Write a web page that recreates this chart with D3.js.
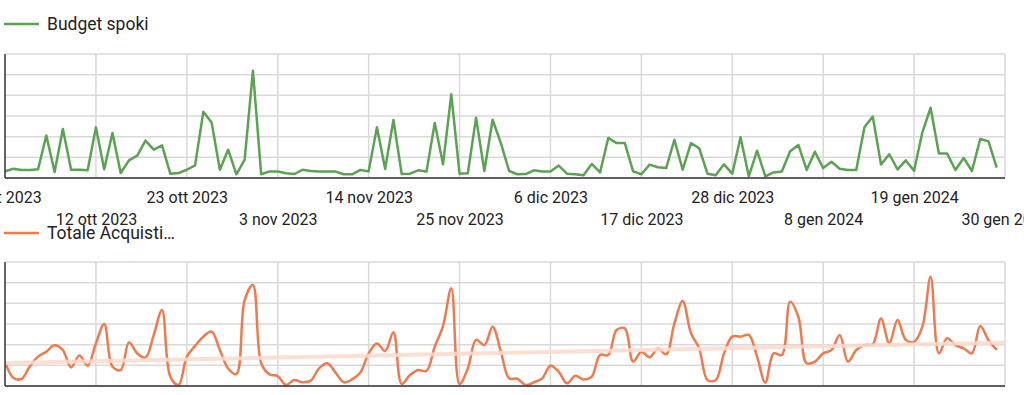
<!DOCTYPE html>
<meta charset="utf-8">
<html>
    <head>
        <style type="text/css">
            body { margin:0; background:#fff; }
            svg { display:block; }
            .graphText { font-family: Roboto, "Noto Sans", sans-serif; font-size: 16px; fill: #222; }
            .legendText { font-family: Roboto, "Noto Sans", sans-serif; font-size: 17.5px; fill: #222; }
        </style>
        <script src="https://d3js.org/d3.v7.min.js"></script>
    </head>
    <body>
        <svg width="1024" height="395"></svg>
        <script type="text/javascript">
            // daily values, 1 ott 2023 .. 29 gen 2024
            var startDate = new Date(2023, 9, 1);
            var budgetSpoki = [
                3.2, 4.5, 3.9, 3.9, 4.2, 20.6, 2.9, 23.7, 4.0, 4.0,
                3.7, 24.5, 4.2, 21.8, 2.4, 8.5, 10.8, 18.1, 13.7, 15.8,
                2.1, 2.4, 4.0, 6.1, 32.1, 26.9, 4.0, 13.7, 1.8, 8.9,
                51.9, 1.8, 3.2, 3.1, 2.3, 1.9, 4.0, 3.4, 3.1, 3.1,
                3.1, 1.8, 1.8, 3.9, 3.2, 24.5, 4.4, 28.1, 1.9, 2.1,
                3.7, 3.1, 26.6, 6.6, 40.5, 2.1, 2.3, 29.2, 3.4, 28.2,
                16.9, 3.4, 1.8, 1.9, 3.7, 3.1, 3.1, 6.0, 2.1, 1.8,
                1.3, 6.8, 2.7, 19.4, 16.9, 16.9, 3.2, 1.8, 6.5, 5.2,
                4.8, 18.5, 4.0, 16.9, 14.4, 2.1, 1.3, 6.6, 2.1, 19.7,
                0.8, 13.2, 0.8, 2.7, 3.1, 12.9, 16.0, 3.9, 12.7, 4.8,
                7.9, 4.5, 3.9, 3.9, 24.7, 29.7, 6.5, 11.5, 4.2, 8.5,
                3.5, 22.1, 34.0, 11.9, 11.8, 3.9, 9.7, 3.4, 18.9, 17.7, 5.0
            ];
            var totaleAcquisti = [
                11.6, 4.0, 3.4, 9.4, 14.2, 16.6, 19.7, 17.4, 9.0, 14.8,
                9.8, 20.6, 30.0, 9.4, 7.7, 21.1, 15.8, 13.7, 24.7, 36.8,
                4.5, 0.5, 14.2, 19.4, 23.9, 26.3, 17.4, 8.5, 5.8, 41.6,
                48.9, 11.0, 5.6, 4.8, 0.5, 2.9, 1.8, 2.6, 8.5, 11.0,
                6.5, 1.8, 3.2, 6.5, 15.8, 20.6, 16.9, 26.0, 1.0, 5.3,
                7.7, 7.3, 19.0, 29.0, 47.3, 1.0, 8.5, 22.3, 19.8, 28.7,
                16.6, 3.7, 3.5, 0.5, 1.8, 3.7, 9.8, 6.9, 1.3, 5.0,
                3.2, 4.5, 15.0, 15.0, 27.1, 27.9, 11.8, 16.6, 13.9, 18.2,
                15.3, 30.3, 41.1, 25.5, 18.2, 2.9, 2.9, 15.8, 23.9, 23.9,
                24.7, 14.2, 1.6, 15.8, 15.0, 40.8, 33.5, 11.0, 11.8, 15.8,
                17.4, 24.7, 11.8, 17.4, 19.8, 20.3, 32.7, 20.6, 31.9, 22.3,
                21.3, 28.7, 52.9, 15.8, 23.1, 19.8, 18.2, 15.8, 29.0, 22.3, 17.4
            ];
            var tickLabels = ["1 ott 2023", "12 ott 2023", "23 ott 2023", "3 nov 2023",
                "14 nov 2023", "25 nov 2023", "6 dic 2023", "17 dic 2023", "28 dic 2023",
                "8 gen 2024", "19 gen 2024", "30 gen 2024"];
            var yTicks = [0, 10, 20, 30, 40, 50, 60];

            var day = i => d3.timeDay.offset(startDate, i);
            var tickDates = tickLabels.map((t, i) => day(i * 11));

            var x = d3.scaleTime()
                .domain([startDate, day(121)])
                .range([5, 1005]);

            var svg = d3.select("svg");

            function panel(top, bottom, values, color, name, legendY, smooth, showLabels) {
                var y = d3.scaleLinear().domain([0, 60]).range([bottom, top]);
                var g = svg.append("g");
                var id = "clip" + Math.round(top);

                svg.append("clipPath").attr("id", id)
                    .append("rect")
                    .attr("x", x.range()[0]).attr("y", top)
                    .attr("width", x.range()[1] - x.range()[0]).attr("height", bottom - top);

                // grid
                g.selectAll(".hg").data(yTicks).enter().append("line")
                    .attr("x1", x.range()[0]).attr("x2", x.range()[1])
                    .attr("y1", d => y(d)).attr("y2", d => y(d))
                    .attr("stroke", "#d9d9d9").attr("stroke-width", 1.5);
                g.selectAll(".vg").data(tickDates.slice(1)).enter().append("line")
                    .attr("x1", d => x(d)).attr("x2", d => x(d))
                    .attr("y1", top).attr("y2", bottom)
                    .attr("stroke", "#d9d9d9").attr("stroke-width", 1.5);

                var pts = values.map((v, i) => [day(i), v]);
                var line = d3.line()
                    .x(d => x(d[0]))
                    .y(d => y(d[1]))
                    .curve(smooth ? d3.curveCatmullRom : d3.curveLinear);

                g.append("path")
                    .datum(pts)
                    .attr("clip-path", "url(#" + id + ")")
                    .attr("fill", "none")
                    .attr("stroke", color)
                    .attr("stroke-width", 2.5)
                    .attr("stroke-linejoin", "round")
                    .attr("d", line);

                if (smooth) {
                    // linear trend
                    var mx = d3.mean(values, (v, i) => i), my = d3.mean(values);
                    var slope = d3.sum(values, (v, i) => (i - mx) * (v - my)) /
                        d3.sum(values, (v, i) => (i - mx) * (i - mx));
                    var b = my - slope * mx;
                    g.append("path")
                        .datum([0, 121])
                        .attr("fill", "none")
                        .attr("stroke", "#fbd9ca")
                        .attr("stroke-opacity", 0.85)
                        .attr("stroke-width", 4)
                        .attr("d", d3.line().x(d => x(day(d))).y(d => y(b + slope * d)));
                }

                // axes lines
                g.append("line")
                    .attr("x1", x.range()[0]).attr("x2", x.range()[0])
                    .attr("y1", top).attr("y2", bottom)
                    .attr("stroke", "#333").attr("stroke-width", 1.5);
                g.append("line")
                    .attr("x1", x.range()[0]).attr("x2", x.range()[1])
                    .attr("y1", bottom).attr("y2", bottom)
                    .attr("stroke", "#333").attr("stroke-width", 1.5);

                if (showLabels) {
                    var xAxis = d3.axisBottom(x)
                        .tickValues(tickDates)
                        .tickFormat((d, i) => tickLabels[i])
                        .tickSize(0);
                    var ax = g.append("g")
                        .attr("transform", "translate(0," + bottom + ")")
                        .call(xAxis);
                    ax.select(".domain").remove();
                    ax.selectAll("text")
                        .attr("class", "graphText")
                        .attr("dy", null)
                        .attr("y", (d, i) => i % 2 === 0 ? 25 : 47);
                }

                // legend
                svg.append("line")
                    .attr("x1", 4).attr("x2", 39)
                    .attr("y1", legendY).attr("y2", legendY)
                    .attr("stroke", color).attr("stroke-width", 2.5);
                svg.append("text")
                    .attr("class", "legendText")
                    .attr("x", 47).attr("y", legendY + 6)
                    .text(name);
            }

            panel(54, 178, budgetSpoki, "#5ba253", "Budget spoki", 24, false, true);
            panel(262, 386, totaleAcquisti, "#f07a4d", "Totale Acquisti\u2026", 233, true, false);
        </script>
    </body>
</html>
